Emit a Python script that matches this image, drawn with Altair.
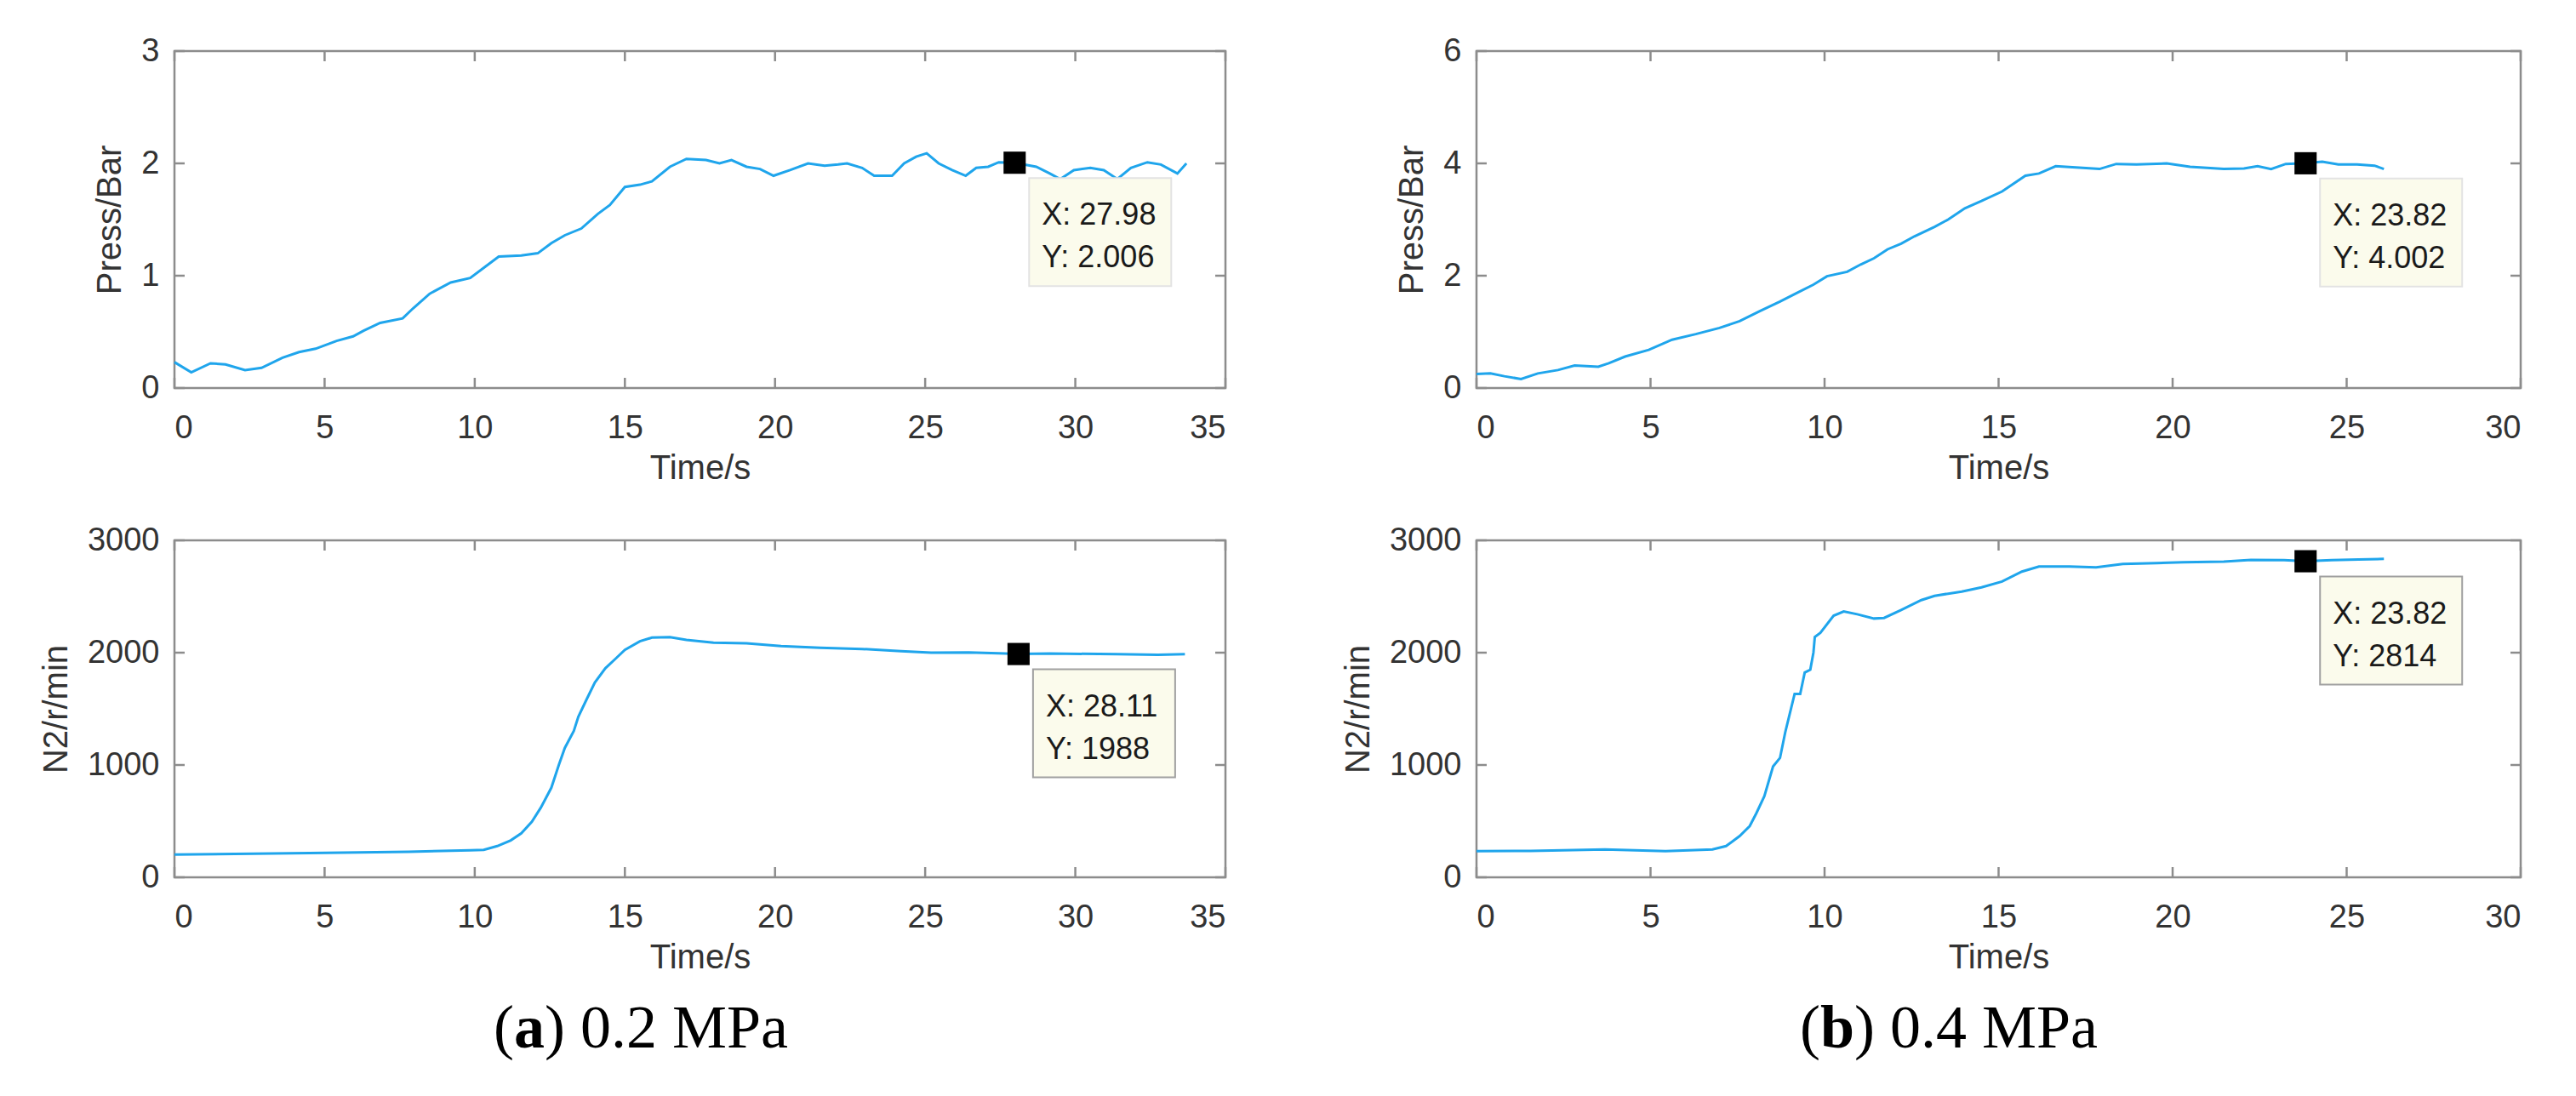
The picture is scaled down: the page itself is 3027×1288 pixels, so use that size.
import altair as alt
import pandas as pd

# (a) 0.2 MPa  -- pressure
time_a_press = [0, 0.56, 1.2, 1.7, 2.35, 2.9, 3.6, 4.15, 4.7, 5.4,
                5.95, 6.3, 6.85, 7.6, 7.95, 8.5, 9.2, 9.85, 10.3, 10.8,
                11.55, 12.1, 12.55, 13.0, 13.55, 14.1, 14.5, 15.0, 15.5, 15.9,
                16.5, 17.05, 17.7, 18.15, 18.55, 19.05, 19.5, 19.95, 20.5, 21.1,
                21.65, 22.1, 22.4, 22.9, 23.3, 23.9, 24.3, 24.7, 25.05, 25.45,
                25.9, 26.35, 26.7, 27.1, 27.45, 27.98, 28.7, 29.15, 29.5, 29.95,
                30.5, 30.95, 31.4, 31.85, 32.4, 32.85, 33.4, 33.7]
press_a = [0.23, 0.14, 0.22, 0.21, 0.16, 0.18, 0.27, 0.32, 0.35, 0.42,
           0.46, 0.51, 0.58, 0.62, 0.71, 0.84, 0.94, 0.98, 1.07, 1.17,
           1.18, 1.20, 1.29, 1.36, 1.42, 1.55, 1.63, 1.79, 1.81, 1.84,
           1.97, 2.04, 2.03, 2.00, 2.03, 1.97, 1.95, 1.89, 1.94, 2.00,
           1.98, 1.99, 2.00, 1.96, 1.89, 1.89, 2.00, 2.06, 2.09, 2.00,
           1.94, 1.89, 1.96, 1.97, 2.01, 2.006, 1.97, 1.91, 1.86, 1.94,
           1.96, 1.94, 1.86, 1.96, 2.01, 1.99, 1.91, 2.00]

# (a) 0.2 MPa  -- N2 speed
time_a_n2 = [0, 4.5, 7.8, 9.85, 10.3, 10.75, 11.2, 11.55, 11.9, 12.2,
             12.55, 12.8, 13.0, 13.3, 13.45, 13.7, 14.0, 14.35, 14.7, 15.0,
             15.5, 15.9, 16.5, 17.05, 17.95, 19.05, 20.2, 21.5, 22.9, 24.2,
             25.2, 26.45, 27.45, 28.11, 29.15, 31.4, 32.75, 33.65]
n2_a = [203, 215, 228, 240, 245, 278, 329, 392, 494, 620,
        797, 1000, 1152, 1304, 1430, 1570, 1734, 1861, 1949, 2025,
        2101, 2134, 2139, 2114, 2089, 2084, 2058, 2043, 2033, 2013,
        2000, 2002, 1995, 1988, 1992, 1987, 1982, 1987]

# (b) 0.4 MPa  -- pressure
time_b_press = [0, 0.4, 0.8, 1.28, 1.76, 2.34, 2.82, 3.5, 3.8, 4.27,
                4.95, 5.62, 6.3, 6.98, 7.56, 8.14, 8.72, 9.2, 9.68, 10.07,
                10.65, 11.04, 11.42, 11.81, 12.2, 12.58, 13.16, 13.55, 14.03, 14.51,
                15.1, 15.77, 16.16, 16.64, 17.12, 17.9, 18.38, 18.96, 19.83, 20.5,
                21.47, 22.05, 22.44, 22.83, 23.25, 23.82, 24.3, 24.76, 25.3, 25.8,
                26.07]
press_b = [0.25, 0.26, 0.21, 0.16, 0.26, 0.32, 0.40, 0.38, 0.44, 0.56,
           0.68, 0.86, 0.96, 1.07, 1.19, 1.37, 1.54, 1.69, 1.84, 1.99,
           2.07, 2.20, 2.31, 2.47, 2.57, 2.70, 2.87, 3.00, 3.20, 3.33,
           3.50, 3.78, 3.82, 3.95, 3.93, 3.90, 3.99, 3.98, 4.00, 3.94,
           3.90, 3.91, 3.95, 3.90, 3.99, 4.002, 4.03, 3.98, 3.98, 3.96,
           3.90]

# (b) 0.4 MPa  -- N2 speed
time_b_n2 = [0, 1.55, 3.69, 5.43, 6.78, 7.17, 7.56, 7.85, 8.04, 8.27,
             8.52, 8.72, 8.87, 9.07, 9.14, 9.3, 9.43, 9.59, 9.68, 9.72,
             9.88, 10.26, 10.55, 10.94, 11.42, 11.71, 12.2, 12.78, 13.16, 13.94,
             14.51, 15.1, 15.67, 16.16, 17.03, 17.8, 18.57, 19.54, 20.3, 21.47,
             22.25, 23.2, 23.82, 24.57, 25.34, 26.07]
n2_b = [233, 235, 248, 233, 248, 278, 367, 456, 570, 722,
        987, 1063, 1291, 1544, 1633, 1633, 1823, 1848, 2000, 2139,
        2177, 2329, 2367, 2342, 2304, 2309, 2380, 2468, 2506, 2544,
        2582, 2633, 2722, 2767, 2767, 2759, 2790, 2797, 2805, 2810,
        2825, 2823, 2814, 2823, 2830, 2835]

# data tips (x, y)
tip_a_press = [27.98, 2.006]
tip_a_n2 = [28.11, 1988]
tip_b_press = [23.82, 4.002]
tip_b_n2 = [23.82, 2814]

y_ticks_a_press = [0, 1, 2, 3]
y_ticks_b_press = [0, 2, 4, 6]
y_ticks_n2 = [0, 1000, 2000, 3000]

caption_a = ["(", "a", ") 0.2 MPa"]
caption_b = ["(", "b", ") 0.4 MPa"]

LINE = "#1fa5ec"
FRAME = "#8c8c8c"
TEXT = "#333333"
SANS = "Liberation Sans"
SERIF = "Liberation Serif"
H = 396
W_A = 1235
W_B = 1227
CAP_SIZE = 72
TICK = 12


def panel(times, values, xmax, yvals, ytitle, tip, width, tip_stroke):
    df = pd.DataFrame({"t": times, "v": values})
    xs = alt.Scale(domain=[0, xmax], nice=False, zero=False)
    ys = alt.Scale(domain=[yvals[0], yvals[-1]], nice=False)
    xticks = list(range(0, xmax + 1, 5))
    ymax = yvals[-1]

    line = alt.Chart(df).mark_line(color=LINE, strokeWidth=3).encode(
        x=alt.X("t:Q", scale=xs, axis=alt.Axis(
            values=xticks, orient="bottom", title="Time/s", ticks=False,
            domain=False, grid=False, labelPadding=28, titlePadding=8,
            labelFontSize=38, titleFontSize=40)),
        y=alt.Y("v:Q", scale=ys, axis=alt.Axis(
            values=yvals, orient="left", title=ytitle, format="d", ticks=False,
            domain=False, grid=False, labelPadding=18, titlePadding=16,
            labelFontSize=38, titleFontSize=40)),
    )

    # inward ticks on all four sides of the box
    xt = alt.Chart(pd.DataFrame({"tx": xticks}))
    yt = alt.Chart(pd.DataFrame({"ty": yvals}))
    rule = dict(color=FRAME, strokeWidth=2.5)
    tx_enc = alt.X("tx:Q", scale=xs, axis=None)
    ty_enc = alt.Y("ty:Q", scale=ys, axis=None)
    ticks_bottom = xt.mark_rule(y2Offset=-TICK, **rule).encode(
        x=tx_enc, y=alt.Y(datum=0, axis=None), y2=alt.Y2(datum=0))
    ticks_top = xt.mark_rule(y2Offset=TICK, **rule).encode(
        x=tx_enc, y=alt.Y(datum=ymax, axis=None), y2=alt.Y2(datum=ymax))
    ticks_left = yt.mark_rule(x2Offset=TICK, **rule).encode(
        y=ty_enc, x=alt.X(datum=0, axis=None), x2=alt.X2(datum=0))
    ticks_right = yt.mark_rule(x2Offset=-TICK, **rule).encode(
        y=ty_enc, x=alt.X(datum=xmax, axis=None), x2=alt.X2(datum=xmax))

    tip_df = pd.DataFrame({
        "t": [tip[0]], "v": [tip[1]],
        "lx": [f"X: {tip[0]}"], "ly": [f"Y: {tip[1]}"],
    })
    tb = alt.Chart(tip_df)
    tx = alt.X("t:Q", scale=xs, axis=None)
    ty = alt.Y("v:Q", scale=ys, axis=None)
    box = tb.mark_rect(
        fill="#fbfbec", stroke=tip_stroke, strokeWidth=2,
        xOffset=17, x2Offset=17 + 167, yOffset=18, y2Offset=18 + 127,
    ).encode(x=tx, x2="t:Q", y=ty, y2="v:Q")
    marker = tb.mark_square(size=680, color="black", opacity=1).encode(x=tx, y=ty)
    lab_x = tb.mark_text(align="left", baseline="middle", dx=32, dy=62,
                         font=SANS, fontSize=36, color="#1a1a1a").encode(
        x=tx, y=ty, text="lx:N")
    lab_y = tb.mark_text(align="left", baseline="middle", dx=32, dy=112,
                         font=SANS, fontSize=36, color="#1a1a1a").encode(
        x=tx, y=ty, text="ly:N")

    # independent axes: only the line layer draws one, scales stay shared
    return alt.layer(
        line, ticks_bottom, ticks_top, ticks_left, ticks_right,
        box, marker, lab_x, lab_y,
    ).resolve_axis(x="independent", y="independent").properties(
        width=width, height=H)


def caption(parts, width, center):
    # Times metrics: "(" 0.333em, bold letter a 0.5 / b 0.556, rest summed
    w_paren = 0.333 * CAP_SIZE
    w_bold = (0.5 if parts[1] == "a" else 0.556) * CAP_SIZE
    w_rest = (0.333 + 0.25 + 0.5 + 0.25 + 0.5 + 0.25 + 0.889 + 0.556 + 0.444) * CAP_SIZE
    left = center - (w_paren + w_bold + w_rest) / 2
    xb = left + w_paren + w_bold / 2
    yc = 36
    layers = []
    for part, x, align, weight in [
        (parts[0], xb - w_bold / 2, "right", "normal"),
        (parts[1], xb, "center", "bold"),
        (parts[2], xb + w_bold / 2, "left", "normal"),
    ]:
        layers.append(
            alt.Chart(pd.DataFrame({"s": [part]})).mark_text(
                align=align, baseline="middle", font=SERIF,
                fontSize=CAP_SIZE, fontWeight=weight, color="black",
            ).encode(x=alt.value(x), y=alt.value(yc), text="s:N")
        )
    return alt.layer(*layers).properties(
        width=width, height=72,
        view=alt.ViewBackground(stroke="transparent", fill="white"))


top_a = panel(time_a_press, press_a, 35, y_ticks_a_press, "Press/Bar",
              tip_a_press, W_A, "#e3e3e3")
bot_a = panel(time_a_n2, n2_a, 35, y_ticks_n2, "N2/r/min",
              tip_a_n2, W_A, "#a0a0a0")
top_b = panel(time_b_press, press_b, 30, y_ticks_b_press, "Press/Bar",
              tip_b_press, W_B, "#e3e3e3")
bot_b = panel(time_b_n2, n2_b, 30, y_ticks_n2, "N2/r/min",
              tip_b_n2, W_B, "#a0a0a0")

col_a = alt.vconcat(alt.vconcat(top_a, bot_a, spacing=42),
                    caption(caption_a, W_A, 548), spacing=24)
col_b = alt.vconcat(alt.vconcat(top_b, bot_b, spacing=42),
                    caption(caption_b, W_B, 555), spacing=24)

chart = alt.hconcat(col_a, col_b, spacing=132).properties(
    padding={"left": 37, "top": 31, "right": 5, "bottom": 5}
).configure_view(
    stroke=FRAME, strokeWidth=2.5
).configure_axis(
    labelFont=SANS, titleFont=SANS, labelColor=TEXT, titleColor=TEXT,
    titleFontWeight="normal"
)

chart.save("out.html", embed_options={"renderer": "svg", "actions": False})
